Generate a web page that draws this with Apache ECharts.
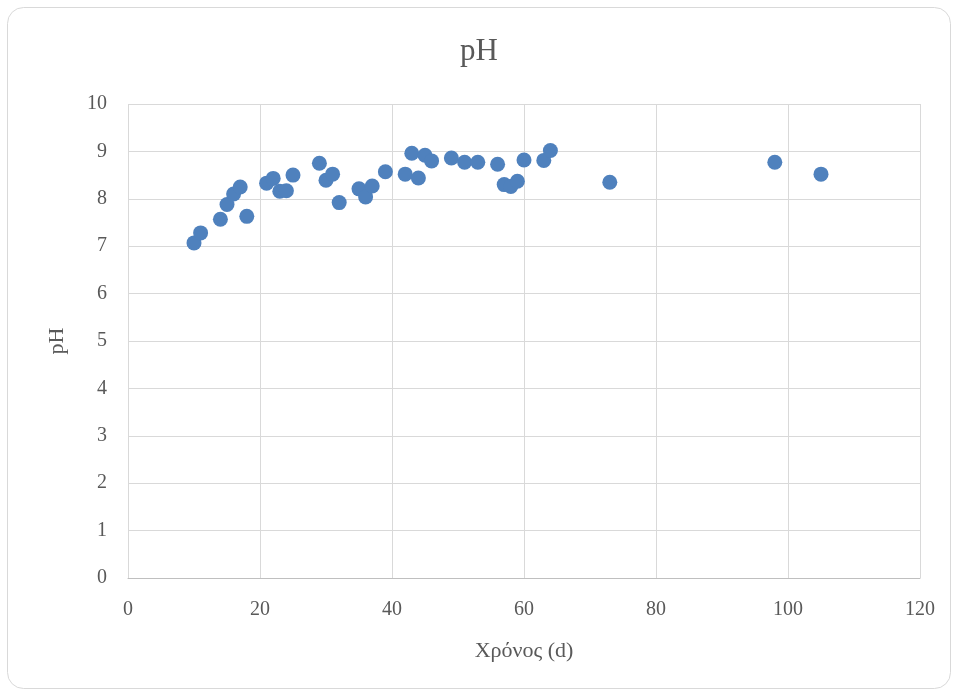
<!DOCTYPE html>
<html>
<head>
<meta charset="utf-8">
<script src="https://cdn.jsdelivr.net/npm/echarts@6/dist/echarts.min.js"></script>
<style>
html, body { margin: 0; padding: 0; background: #fff; }
#chart { width: 958px; height: 692px; }
</style>
</head>
<body>
<div id="chart"></div>
<script>
// time in days
const days = [10, 11, 14, 15, 16, 17, 18, 21, 22, 23, 24, 25, 29, 30, 31, 32, 35, 36, 37, 39,
    42, 43, 44, 45, 46, 49, 51, 53, 56, 57, 58, 59, 60, 63, 64, 73, 98, 105]
// pH values
const phValues = [7.07, 7.28, 7.57, 7.88, 8.10, 8.25, 7.63, 8.33, 8.43, 8.16, 8.17, 8.50, 8.75, 8.39, 8.52, 7.92, 8.21, 8.04, 8.27, 8.57,
    8.52, 8.96, 8.44, 8.92, 8.80, 8.86, 8.77, 8.77, 8.73, 8.30, 8.26, 8.37, 8.82, 8.81, 9.02, 8.35, 8.77, 8.52]

const chartTitle = "pH"
const xName = "Χρόνος (d)"
const yName = "pH"

const points = days.map((d, i) => [d, phValues[i]])
const font = "'Liberation Serif', 'DejaVu Serif', serif"

const charts = echarts.init(document.getElementById("chart"))
const option = {
    backgroundColor: "#ffffff",
    animation: false,
    graphic: [{
        type: "rect",
        shape: { x: 7.5, y: 7.5, width: 943, height: 681, r: 16 },
        style: { fill: "none", stroke: "#d9d9d9", lineWidth: 1 },
        silent: true
    }],
    title: {
        text: chartTitle,
        left: "center",
        top: 31,
        textStyle: {
            fontFamily: font,
            fontSize: 31,
            fontWeight: "normal",
            color: "#595959"
        }
    },
    grid: {
        left: 128,
        right: 38,
        top: 104,
        bottom: 114
    },
    xAxis: {
        type: "value",
        min: 0,
        max: 120,
        interval: 20,
        name: xName,
        nameLocation: "middle",
        nameGap: 62,
        nameTextStyle: { fontFamily: font, fontSize: 22, color: "#595959" },
        axisLine: { show: true, lineStyle: { color: "#bfbfbf", width: 1 } },
        axisTick: { show: false },
        axisLabel: { fontFamily: font, fontSize: 20, color: "#595959", margin: 22 },
        splitLine: { show: true, lineStyle: { color: "#d9d9d9", width: 1 } }
    },
    yAxis: {
        type: "value",
        min: 0,
        max: 10,
        interval: 1,
        name: yName,
        nameLocation: "middle",
        nameGap: 60,
        nameTextStyle: { fontFamily: font, fontSize: 22, color: "#595959" },
        axisLine: { show: false },
        axisTick: { show: false },
        axisLabel: { fontFamily: font, fontSize: 20, color: "#595959", margin: 21 },
        splitLine: { show: true, lineStyle: { color: "#d9d9d9", width: 1 } }
    },
    series: [{
        type: "scatter",
        symbol: "circle",
        symbolSize: 15,
        itemStyle: { color: "#4f81bd", opacity: 1 },
        data: points
    }]
}
charts.setOption(option, true)
</script>
</body>
</html>
